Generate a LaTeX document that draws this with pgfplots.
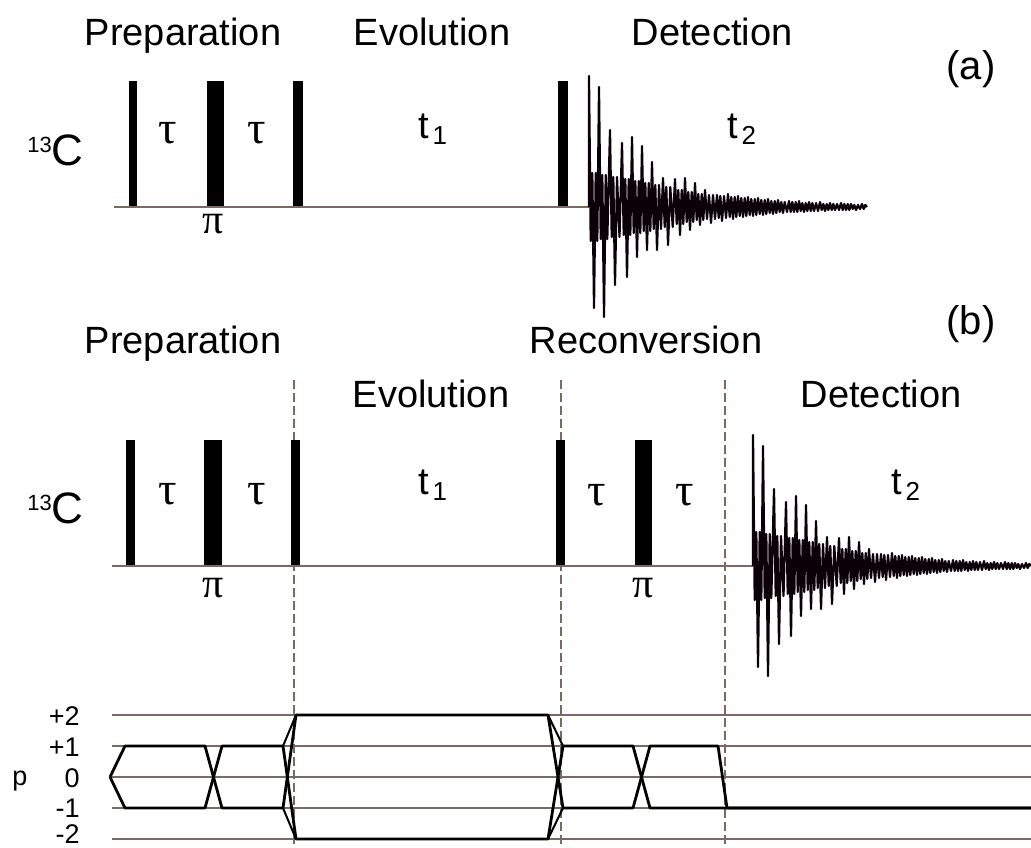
\documentclass[border=0pt]{standalone}
\usepackage{pgfplots}
\pgfplotsset{compat=1.18}
\usepackage{pgfplotstable}
\usepackage{fontspec}
\setmainfont{Liberation Sans}
\newfontfamily\grk{Liberation Serif}
\definecolor{ln}{RGB}{125,105,100}
\definecolor{fidc}{RGB}{12,0,8}
\newcommand{\hd}{\fontsize{19}{23}\selectfont}
\newcommand{\gt}{\grk\fontsize{23}{26}\selectfont}
\newcommand{\gp}{\grk\fontsize{21}{24}\selectfont}
\newcommand{\tsub}[1]{t\kern1.8pt\raisebox{-3pt}{\fontsize{13}{15}\selectfont #1}}
\newcommand{\cc}{{\fontsize{11}{13}\selectfont\raisebox{6.5pt}{13}}C}
\newcommand{\pl}{\fontsize{13.5}{15}\selectfont}

\pgfplotstableread{
dx dy
0 0
0 131
1.7 -34
3.3 34
5 -101
6.7 34
8.3 -34
10 120
11.7 -32
13.3 32
15 -110
16.7 32
18.3 -32
21 77
22.7 -30
24.3 30
26 -78
28 30
30.5 -30
33 64
34.7 -28
36.3 28
38 -70
39.7 28
41.3 -28
43 70
44.7 -26
46.3 26
48 -50
49.7 26
51.3 -26
53 61
54.7 -24
56.3 24
58 -43
59.7 24
61.3 -24
63 45
64.7 -22
66.3 22
68 -43
70 22
72 -22
74 29
75.7 -20
77.3 20
79 -38
81.3 20
83.7 -20
86 28
87.7 -17
89.3 17
91 -28
92.7 17
94.3 -17
96 29
97.7 -15
99.3 15
101 -23
102.7 15
104.3 -15
106 24
107.7 -13
109.3 13
111 -18
112.7 13
114.3 -13
116 17
118 -12
120 12
122 -16
124 12
126 -12
128 12
129.7 -11
131.3 11
133 -14
135 11
137 -11
139 13
140.7 -10
142.3 10
144 -12
145.7 10
147.3 -10
149 11
150.7 -9
152.3 9
154 -10
155.7 9
157.3 -9
159 10
160.7 -8
162.3 8
164 -9
165.7 8
167.3 -8
169 9
170.7 -7
172.3 7
174 -8
175.7 7
177.3 -7
179 8
180.7 -6
182.3 6
184 -7
185.7 6
187.3 -6
189 7
190.7 -5
192.3 5
194 -6
195.7 5
198 -5
200 6
201.7 -5
203.3 5
205 -5
206.7 5
208.3 -5
210 6
211.7 -4
213.3 4
215 -5
216.7 4
218.3 -4
220 5
221.7 -4
223.3 4
225 -4
227 4
229 -4
231 5
232.7 -3
234.3 3
236 -4
237.7 3
239.3 -3
241 4
242.7 -3
244.3 3
246 -3
248 3
250 -3
252 4
253.7 -3
255.3 3
257 -3
258.7 3
260.3 -3
262 3
263.7 -2
265.3 2
267 -3
269 2
271 -2
273 3
274.7 -2
276.3 2
278 0
}\fid

\begin{document}
\begin{tikzpicture}
\begin{axis}[x=0.5pt, y=0.5pt, xmin=0, xmax=1031, ymin=0, ymax=847,
  y dir=reverse, hide axis, clip=false, no markers]
\coordinate (ll) at (axis cs:0,847);
\coordinate (ur) at (axis cs:1031,0);

% ---------- (a) ----------
\addplot[ln, line width=0.9pt] coordinates {(114,207) (589,207)};
\addplot[fill=black, draw=none] coordinates {(129,206) (129,81) (137,81) (137,206)} -- cycle;
\addplot[fill=black, draw=none] coordinates {(207,206) (207,81) (224,81) (224,206)} -- cycle;
\addplot[fill=black, draw=none] coordinates {(293,206) (293,81) (303,81) (303,206)} -- cycle;
\addplot[fill=black, draw=none] coordinates {(558,206) (558,81) (568,81) (568,206)} -- cycle;
\addplot[fidc, line width=1.1pt, line join=round] table[x expr=589+\thisrow{dx}, y expr=207-\thisrow{dy}] {\fid};

% ---------- (b) ----------
\addplot[ln, line width=0.6pt, dash pattern=on 4.5pt off 2pt] coordinates {(294,380) (294,847)};
\addplot[ln, line width=0.6pt, dash pattern=on 4.5pt off 2pt] coordinates {(561,380) (561,847)};
\addplot[ln, line width=0.6pt, dash pattern=on 4.5pt off 2pt] coordinates {(725,380) (725,847)};
\addplot[ln, line width=0.9pt] coordinates {(112,566) (753,566)};
\addplot[fill=black, draw=none] coordinates {(126,565) (126,440) (135,440) (135,565)} -- cycle;
\addplot[fill=black, draw=none] coordinates {(204,565) (204,440) (222,440) (222,565)} -- cycle;
\addplot[fill=black, draw=none] coordinates {(291,565) (291,440) (300,440) (300,565)} -- cycle;
\addplot[fill=black, draw=none] coordinates {(556,565) (556,440) (565,440) (565,565)} -- cycle;
\addplot[fill=black, draw=none] coordinates {(635,565) (635,440) (652,440) (652,565)} -- cycle;
\addplot[fidc, line width=1.1pt, line join=round] table[x expr=753+\thisrow{dx}, y expr=566-\thisrow{dy}] {\fid};

% ---------- coherence levels ----------
\addplot[ln, line width=0.7pt] coordinates {(112,715) (1031,715)};
\addplot[ln, line width=0.7pt] coordinates {(112,746) (1031,746)};
\addplot[ln, line width=0.7pt] coordinates {(112,777) (1031,777)};
\addplot[ln, line width=0.7pt] coordinates {(112,808) (1031,808)};
\addplot[ln, line width=0.7pt] coordinates {(112,839) (1031,839)};

\addplot[black, line width=1.4pt, line join=round] coordinates {(110,777) (125,746) (205,746) (222,808) (283,808) (296,715) (548,715) (563,808) (633,808) (650,746) (718,746) (727,808) (1031,808)};
\addplot[black, line width=1.4pt, line join=round] coordinates {(110,777) (125,808) (205,808) (222,746) (283,746) (296,839) (548,839) (563,746) (633,746) (650,808) (1031,808)};
\addplot[black, line width=1.0pt] coordinates {(283,746) (296,715)};
\addplot[black, line width=1.0pt] coordinates {(283,808) (296,839)};
\addplot[black, line width=1.0pt] coordinates {(548,715) (563,746)};
\addplot[black, line width=1.0pt] coordinates {(548,839) (563,808)};

% ---------- text ----------
\node[anchor=base, font=\hd] at (axis cs:183,45) {Preparation};
\node[anchor=base, font=\hd] at (axis cs:432,45) {Evolution};
\node[anchor=base, font=\hd] at (axis cs:712,45) {Detection};
\node[anchor=base, font=\fontsize{20}{24}\selectfont] at (axis cs:971,79) {(a)};
\node[anchor=base, font=\hd] at (axis cs:183,353) {Preparation};
\node[anchor=base, font=\hd] at (axis cs:646,353) {Reconversion};
\node[anchor=base, font=\hd] at (axis cs:431,407) {Evolution};
\node[anchor=base, font=\hd] at (axis cs:881,407) {Detection};
\node[anchor=base, font=\fontsize{20}{24}\selectfont] at (axis cs:971,334) {(b)};

\node[anchor=base west, inner sep=0pt, font=\hd] at (axis cs:418,138) {\tsub{1}};
\node[anchor=base west, inner sep=0pt, font=\hd] at (axis cs:727,138) {\tsub{2}};
\node[anchor=base west, inner sep=0pt, font=\hd] at (axis cs:418,494) {\tsub{1}};
\node[anchor=base west, inner sep=0pt, font=\hd] at (axis cs:891,494) {\tsub{2}};

\node[anchor=base east, inner sep=0pt, font=\fontsize{22}{26}\selectfont] at (axis cs:84,165) {\cc};
\node[anchor=base east, inner sep=0pt, font=\fontsize{22}{26}\selectfont] at (axis cs:84,523) {\cc};

\node[font=\gt] at (axis cs:168,133) {τ};
\node[font=\gt] at (axis cs:257,133) {τ};
\node[font=\gt] at (axis cs:168,494) {τ};
\node[font=\gt] at (axis cs:257,494) {τ};
\node[font=\gt] at (axis cs:597,495) {τ};
\node[font=\gt] at (axis cs:685,495) {τ};
\node[font=\gp] at (axis cs:213,224) {π};
\node[font=\gp] at (axis cs:213,588) {π};
\node[font=\gp] at (axis cs:643,588) {π};

\node[anchor=base east, inner sep=0pt, font=\pl] at (axis cs:80,725) {+2};
\node[anchor=base east, inner sep=0pt, font=\pl] at (axis cs:80,756) {+1};
\node[anchor=base east, inner sep=0pt, font=\pl] at (axis cs:80,787) {0};
\node[anchor=base east, inner sep=0pt, font=\pl] at (axis cs:80,817) {-1};
\node[anchor=base east, inner sep=0pt, font=\pl] at (axis cs:80,843) {-2};
\node[anchor=base, inner sep=0pt, font=\pl] at (axis cs:20,785) {p};
\end{axis}
\pgfresetboundingbox
\useasboundingbox (ll) rectangle (ur);
\end{tikzpicture}
\end{document}
